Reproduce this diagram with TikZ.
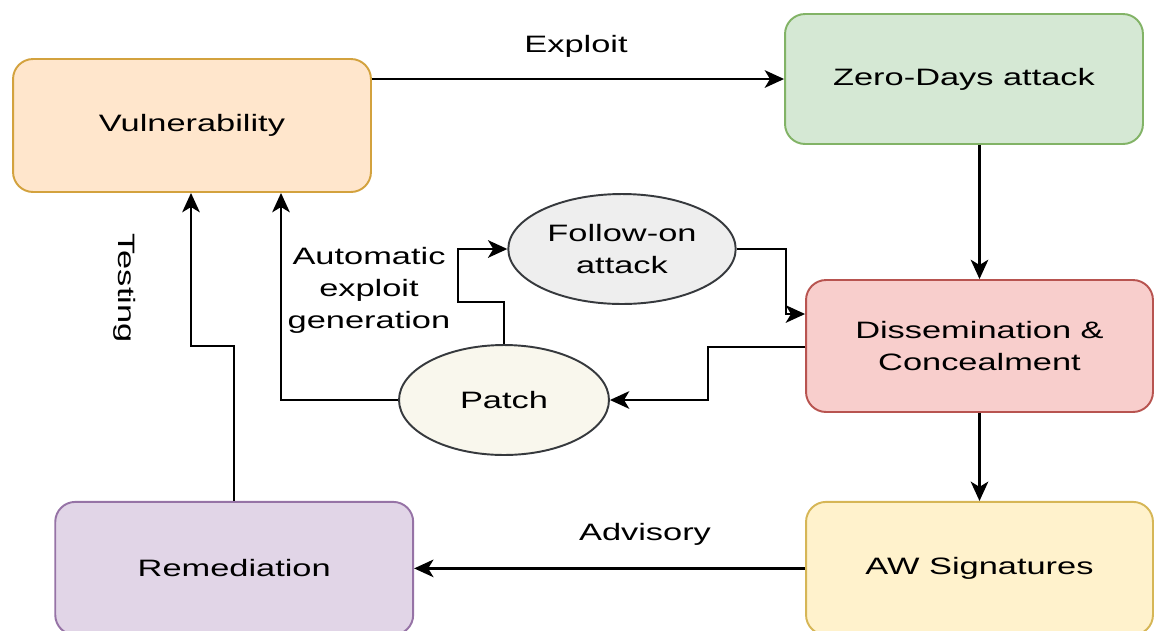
\documentclass[tikz,border=0pt]{standalone}
\usepackage{fontspec}
\setmainfont{Liberation Sans}[FakeStretch=1.45]
\usetikzlibrary{arrows.meta,positioning,shapes.geometric}

\definecolor{vulnfill}{HTML}{FFE6CC}
\definecolor{vulnline}{HTML}{D3A23E}
\definecolor{zerofill}{HTML}{D5E8D4}
\definecolor{zeroline}{HTML}{82B366}
\definecolor{dissfill}{HTML}{F8CECC}
\definecolor{dissline}{HTML}{B85450}
\definecolor{sigfill}{HTML}{FFF2CC}
\definecolor{sigline}{HTML}{D6B656}
\definecolor{remfill}{HTML}{E1D5E7}
\definecolor{remline}{HTML}{9673A6}
\definecolor{followfill}{HTML}{EEEEEE}
\definecolor{patchfill}{HTML}{F9F7ED}
\definecolor{blobline}{HTML}{36393D}

\begin{document}
\begin{tikzpicture}[x=0.02cm,y=-0.02cm,>={Stealth[length=11pt,width=10pt,inset=3pt]},
                    font=\fontsize{13.5}{18.2}\selectfont]
  \tikzstyle{box}=[draw,rounded corners=0.4cm,minimum width=7.16cm,minimum height=2.66cm,align=center,line width=1.1pt]
  \tikzstyle{blob}=[draw=blobline,ellipse,minimum width=4.2cm,minimum height=2.2cm,align=center,line width=1.1pt]
  \tikzstyle{lbl}=[align=center,inner sep=1pt]
  \tikzstyle{link}=[->,line width=1.4pt]

  \clip (0,0) rectangle (1154,630);

  \node[box,fill=vulnfill,draw=vulnline] (vuln) at (192,125.5) {Vulnerability};
  \node[box,fill=zerofill,draw=zeroline,minimum height=2.6cm] (zero) at (964,79) {Zero-Days attack};
  \node[box,fill=dissfill,draw=dissline,minimum width=6.94cm,minimum height=2.64cm] (diss) at (979.5,346) {Dissemination \&\\Concealment};
  \node[box,fill=sigfill,draw=sigline,minimum width=6.94cm] (sig) [below=1.76cm of diss] {AW Signatures};
  \node[box,fill=remfill,draw=remline] (rem) [left=7.82cm of sig] {Remediation};
  \node[blob,fill=followfill] (follow) at (622,249) {Follow-on\\attack};
  \node[blob,fill=patchfill] (patch) at (504,400) {Patch};

  % labels
  \node[lbl] (exploitlbl) at (576,46) {Exploit};
  \node[lbl] (advisorylbl) at (645,534) {Advisory};
  \node[lbl,rotate=-90] (testinglbl) at (125,288) {Testing};
  \node[lbl] (aeglbl) at (369,290) {Automatic\\exploit\\generation};

  % bends
  \coordinate (testbend) at (191,346);
  \coordinate (aegx) at (281,300);
  \coordinate (patchbend) at (458,302);
  \coordinate (followbend) at (786,314);
  \coordinate (dissbend) at (708,347);

  \draw[link] (vuln.east |- zero.west) -- (zero.west);
  \draw[link] (zero.south -| diss.north) -- (diss.north);
  \path (diss) edge[link] (sig)
        (sig)  edge[link] (rem);
  \draw[link] (rem.north) |- (testbend) -- (testbend |- vuln.south);
  \draw[link] (patch.west) -| (aegx |- vuln.south);
  \draw[link] (patch.north) |- (patchbend) |- (follow.west);
  \draw[link] (follow.east) -| (followbend) -- (followbend -| diss.west);
  \draw[link] (dissbend -| diss.west) -- (dissbend) |- (patch.east);
\end{tikzpicture}
\end{document}
